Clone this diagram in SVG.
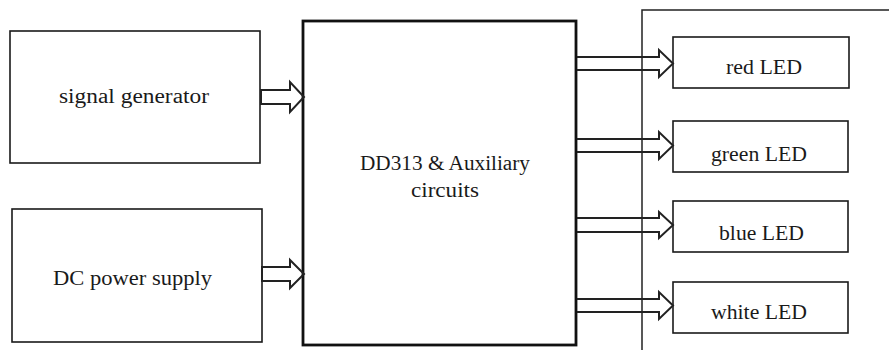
<svg xmlns="http://www.w3.org/2000/svg" width="889" height="350" viewBox="0 0 889 350">
<style>
.box{fill:#fff;stroke:#1a1a1a;stroke-width:1.6}
.main{fill:#fff;stroke:#111;stroke-width:2.8}
.arr{fill:none;stroke:#222;stroke-width:2;stroke-linejoin:miter}
.panel{fill:none;stroke:#222;stroke-width:1.5}
text{font-family:"Liberation Serif","Times New Roman",serif;font-size:20.5px;fill:#1a1a1a;text-anchor:middle}
</style>
<rect width="889" height="350" fill="#fff"/>
<g id="panel"><path class="panel" d="M642,350 V10 H889"/></g>
<g id="signal-generator"><rect class="box" x="10" y="31" width="250" height="132"/><text x="134" y="103" textLength="150" lengthAdjust="spacingAndGlyphs">signal generator</text></g>
<g id="dc-power-supply"><rect class="box" x="12" y="209" width="250" height="133"/><text x="132.5" y="285" textLength="159" lengthAdjust="spacingAndGlyphs">DC power supply</text></g>
<g id="dd313"><rect class="main" x="303" y="21" width="273" height="324"/><text x="445" y="170" textLength="170" lengthAdjust="spacingAndGlyphs">DD313 &amp; Auxiliary</text><text x="445" y="197" textLength="68" lengthAdjust="spacingAndGlyphs">circuits</text></g>
<g id="red-led"><rect class="box" x="673" y="37" width="176" height="51"/><text x="764" y="74" textLength="76" lengthAdjust="spacingAndGlyphs">red LED</text></g>
<g id="green-led"><rect class="box" x="673" y="121" width="175" height="51"/><text x="759" y="161" textLength="96" lengthAdjust="spacingAndGlyphs">green LED</text></g>
<g id="blue-led"><rect class="box" x="673" y="201" width="175" height="51"/><text x="761.5" y="240" textLength="85" lengthAdjust="spacingAndGlyphs">blue LED</text></g>
<g id="white-led"><rect class="box" x="673" y="282" width="175" height="51"/><text x="759" y="319" textLength="96" lengthAdjust="spacingAndGlyphs">white LED</text></g>
<g id="connectors">
<path class="arr" d="M261,90 H290 V82 L304,97 L290,112 V104 H261 Z"/>
<path class="arr" d="M262,267 H290 V260 L304,274 L290,288 V281 H262 Z"/>
<path class="arr" d="M577,57 H659 V50 L673,63.5 L659,77 V70 H577"/>
<path class="arr" d="M577,139 H659 V132 L673,145.5 L659,159 V152 H577"/>
<path class="arr" d="M577,218 H659 V212 L673,225 L659,238 V232 H577"/>
<path class="arr" d="M577,299 H659 V292 L673,305.5 L659,319 V312 H577"/>
</g>
</svg>
